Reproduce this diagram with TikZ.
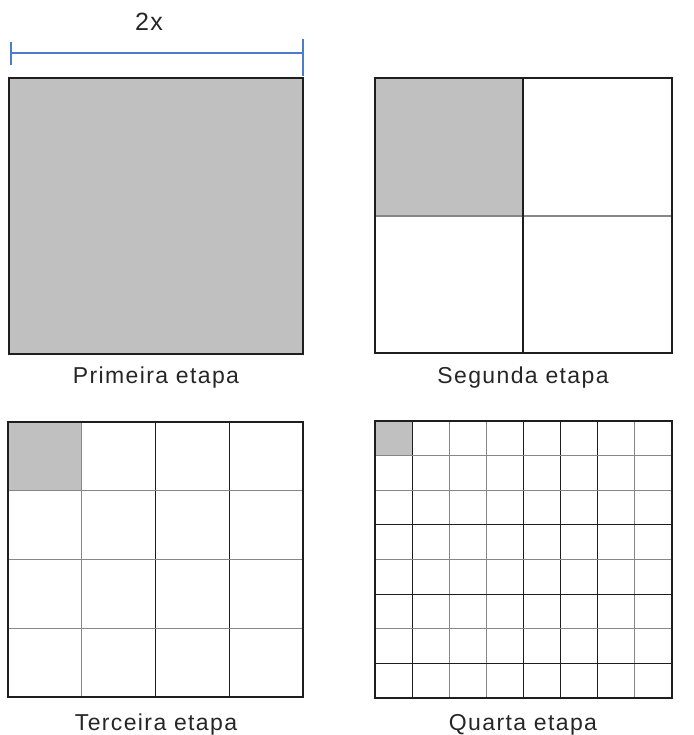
\documentclass[tikz,border=0pt]{standalone}
\usepackage{fontspec}
\setmainfont{Liberation Sans}[LetterSpace=6]
\usetikzlibrary{positioning}
\definecolor{cellgray}{RGB}{192,192,192}
\definecolor{dimblue}{RGB}{74,125,205}
\definecolor{gridgray}{RGB}{135,135,135}
\definecolor{gridblack}{RGB}{30,30,30}

\begin{document}
\begin{tikzpicture}[x=1pt, y=-1pt,
    every node/.style={font=\fontsize{23}{27}\selectfont, text=black!85},
    frame/.style={draw=gridblack, line width=1.6pt},
    gridline/.style={line width=1.2pt},
    dimline/.style={draw=dimblue, line width=1.5pt},
  ]
    \useasboundingbox (0,0) rectangle (693,735);
    % dimension line over the first square
    \coordinate (dimL) at (11,53);
    \coordinate (dimR) at (303,53);
    \draw[dimline] (dimL) -- (dimR);
    \draw[dimline] (11,42) -- (11,65);
    \draw[dimline] (303,39) -- (303,76);
    \node[font=\fontsize{25}{28}\selectfont] (dimlab) at (149,22) {2x};
    % first stage
    \fill[cellgray] (9,78) rectangle (303,354);
    \draw[frame] (9,78) rectangle (303,354);
    \node (lab1) at (156,378) {Primeira etapa};
    % second stage
    \fill[cellgray] (375,78) rectangle (523,216);
    \draw[gridline, draw=gridgray] (375,216) -- (672,216);
    \draw[gridline, draw=gridblack] (523,78) -- (523,353);
    \draw[frame] (375,78) rectangle (672,353);
    \node (lab2) at (523,378) {Segunda etapa};
    % third stage, 4x4
    \fill[cellgray] (8,422) rectangle ({8+73.75},{422+68.75});
    \foreach \i/\c in {1/gridgray, 2/gridblack, 3/gridblack}
      \draw[gridline, draw=\c] ({8+\i*73.75},422) -- ({8+\i*73.75},697);
    \foreach \j/\c in {1/gridgray, 2/gridgray, 3/gridgray}
      \draw[gridline, draw=\c] (8,{422+\j*68.75}) -- (303,{422+\j*68.75});
    \draw[frame] (8,422) rectangle (303,697);
    \node (lab3) at (156,725) {Terceira etapa};
    % fourth stage, 8x8
    \fill[cellgray] (375,421) rectangle ({375+37.125},{421+34.625});
    \foreach \i/\c in {1/gridblack, 2/gridgray, 3/gridgray, 4/gridblack,
                       5/gridblack, 6/gridblack, 7/gridgray}
      \draw[gridline, draw=\c] ({375+\i*37.125},421) -- ({375+\i*37.125},698);
    \foreach \j/\c in {1/gridgray, 2/gridgray, 3/gridblack, 4/gridgray,
                       5/gridblack, 6/gridgray, 7/gridblack}
      \draw[gridline, draw=\c] (375,{421+\j*34.625}) -- (672,{421+\j*34.625});
    \draw[frame] (375,421) rectangle (672,698);
    \node (lab4) at (523,725) {Quarta etapa};
  \end{tikzpicture}
\end{document}
